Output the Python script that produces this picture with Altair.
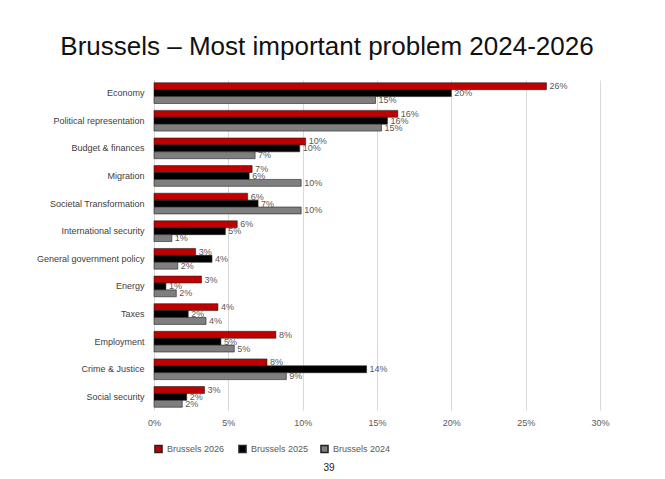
import altair as alt
import pandas as pd

categories = ["Economy", "Political representation", "Budget & finances", "Migration",
              "Societal Transformation", "International security", "General government policy",
              "Energy", "Taxes", "Employment", "Crime & Justice", "Social security"]
series = ["Brussels  2026", "Brussels 2025", "Brussels 2024"]
v2026 = [26.4, 16.4, 10.2, 6.6, 6.3, 5.6, 2.8, 3.2, 4.3, 8.2, 7.6, 3.4]
v2025 = [20.0, 15.7, 9.8, 6.4, 7.0, 4.8, 3.9, 0.8, 2.3, 4.5, 14.3, 2.2]
v2024 = [14.9, 15.3, 6.8, 9.9, 9.9, 1.2, 1.6, 1.5, 3.5, 5.4, 8.9, 1.9]
colors = ["#C00000", "#000000", "#7F7F7F"]

rows = []
for s, vals in zip(series, [v2026, v2025, v2024]):
    for c, v in zip(categories, vals):
        rows.append({"Problem": c, "Series": s, "Value": v / 100})
data = pd.DataFrame(rows)

base = alt.Chart(data).encode(
    y=alt.Y("Problem:N", sort=categories, title=None,
            scale=alt.Scale(paddingInner=0.25, paddingOuter=0.1),
            axis=alt.Axis(ticks=False, domain=False, labelFontSize=9, labelColor="#404040",
                          labelPadding=10, labelFont="Liberation Sans")),
    yOffset=alt.YOffset("Series:N", sort=series),
)

bars = base.mark_bar(stroke="#222222", strokeWidth=0.6).encode(
    x=alt.X("Value:Q", scale=alt.Scale(domain=[0, 0.3]), title=None,
            axis=alt.Axis(format=".0%", values=[0, 0.05, 0.1, 0.15, 0.2, 0.25, 0.3],
                          grid=True, gridColor="#D9D9D9", domain=False, ticks=False,
                          labelFontSize=9, labelColor="#595959", labelPadding=8,
                          labelFlush=False, labelFont="Liberation Sans")),
    color=alt.Color("Series:N", sort=series,
                    scale=alt.Scale(domain=series, range=colors),
                    legend=alt.Legend(title=None, orient="bottom", symbolType="square",
                                      symbolSize=50, labelFontSize=9, labelColor="#595959",
                                      offset=17, columnPadding=8, symbolStrokeColor="#222222")),
)

labels = base.mark_text(align="left", dx=3, fontSize=9, color="#595959",
                        font="Liberation Sans").encode(
    x="Value:Q", text=alt.Text("Value:Q", format=".0%"))

page = alt.Chart(pd.DataFrame({"t": ["39"]})).mark_text(fontSize=10, color="#222222").encode(
    x=alt.value(175), y=alt.value(388), text="t:N")

chart = (bars + labels + page).properties(
    width=446, height=330,
    autosize=alt.AutoSizeParams(type="none"),
    padding={"left": 146, "top": 72, "right": 50, "bottom": 70},
    title=alt.TitleParams("Brussels – Most important problem 2024-2026", fontSize=26,
                          fontWeight="normal", font="Liberation Sans", color="#111111",
                          dx=-50, offset=20),
).configure_view(stroke=None)

chart.save("out.html", embed_options={"renderer": "svg", "actions": False})
